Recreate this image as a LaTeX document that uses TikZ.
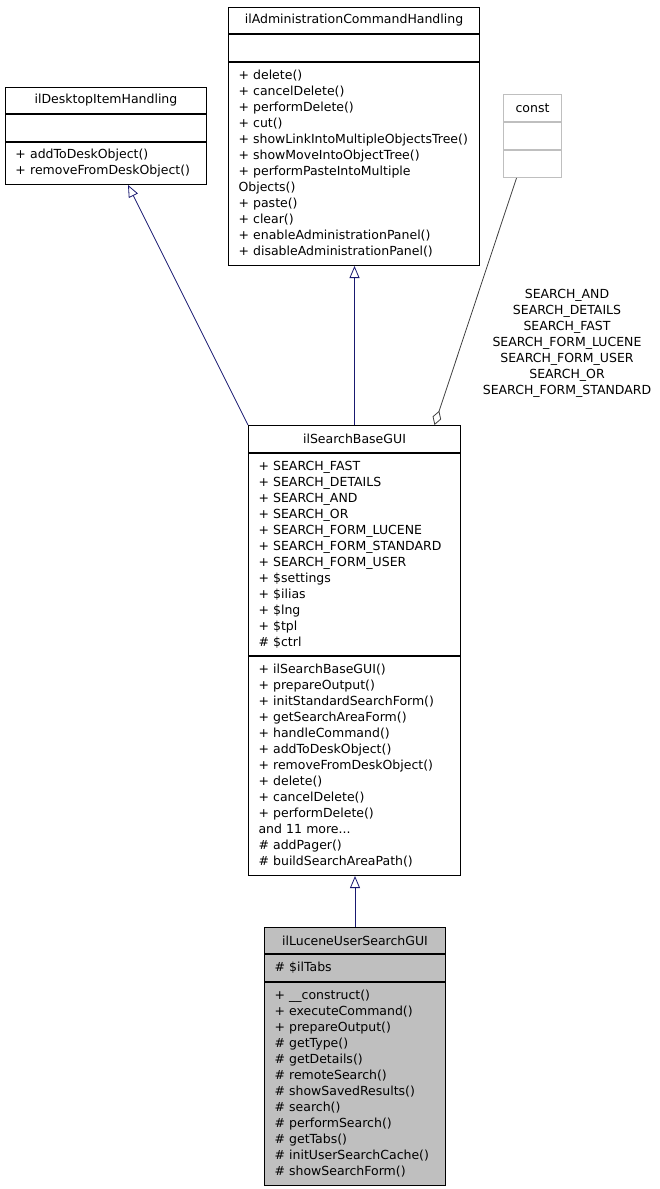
\documentclass[tikz,border=0pt]{standalone}
\usepackage{fontspec}
\setmainfont{DejaVu Sans}
\usetikzlibrary{positioning,arrows.meta}

\definecolor{edgeblue}{HTML}{191970}
\definecolor{boxgray}{HTML}{BFBFBF}
\definecolor{aggray}{HTML}{404040}

\begin{document}
\begin{tikzpicture}[x=1pt, y=-1pt,
  font=\fontsize{12.5}{16}\selectfont,
  head/.style={draw, line width=1pt, inner sep=0pt, align=center},
  part/.style={draw, line width=1pt, inner xsep=10pt, inner ysep=0pt, align=left},
  inh/.style={draw=edgeblue, line width=0.8pt, -{Triangle[open, length=12pt, width=10pt]}},
  agg/.style={draw=aggray, line width=0.8pt, -{Diamond[open, length=15pt, width=9pt]}},
]
\useasboundingbox (0,0) rectangle (660,1189);

% ilDesktopItemHandling
\node[head, anchor=north west, minimum width=201, minimum height=26] (desk) at (5,87) {ilDesktopItemHandling};
\node[part, below=0pt of desk, text width=181, minimum height=27] (desk-a) {};
\node[part, below=0pt of desk-a, text width=181, minimum height=42] (desk-m) {+~addToDeskObject()\\+~removeFromDeskObject()};

% ilAdministrationCommandHandling
\node[head, anchor=north west, minimum width=251, minimum height=26] (admin) at (228,7) {ilAdministrationCommandHandling};
\node[part, below=0pt of admin, text width=231, minimum height=27] (admin-a) {};
\node[part, below=0pt of admin-a, text width=231, minimum height=203] (admin-m) {+~delete()\\+~cancelDelete()\\+~performDelete()\\+~cut()\\+~showLinkIntoMultipleObjectsTree()\\+~showMoveIntoObjectTree()\\+~performPasteIntoMultiple\\Objects()\\+~paste()\\+~clear()\\+~enableAdministrationPanel()\\+~disableAdministrationPanel()};

% const
\node[head, draw=boxgray, anchor=north west, minimum width=58, minimum height=27] (const) at (503,94) {const};
\node[part, draw=boxgray, below=0pt of const, text width=38, minimum height=27] (const-a) {};
\node[part, draw=boxgray, below=0pt of const-a, text width=38, minimum height=27] (const-m) {};

% ilSearchBaseGUI
\node[head, anchor=north west, minimum width=212, minimum height=27] (base) at (248,425) {ilSearchBaseGUI};
\node[part, below=0pt of base, text width=192, minimum height=202] (base-a) {+~SEARCH\_FAST\\+~SEARCH\_DETAILS\\+~SEARCH\_AND\\+~SEARCH\_OR\\+~SEARCH\_FORM\_LUCENE\\+~SEARCH\_FORM\_STANDARD\\+~SEARCH\_FORM\_USER\\+~\$settings\\+~\$ilias\\+~\$lng\\+~\$tpl\\\#~\$ctrl};
\node[part, below=0pt of base-a, text width=192, minimum height=219] (base-m) {+~ilSearchBaseGUI()\\+~prepareOutput()\\+~initStandardSearchForm()\\+~getSearchAreaForm()\\+~handleCommand()\\+~addToDeskObject()\\+~removeFromDeskObject()\\+~delete()\\+~cancelDelete()\\+~performDelete()\\and~11~more...\\\#~addPager()\\\#~buildSearchAreaPath()};

% ilLuceneUserSearchGUI
\node[head, fill=boxgray, anchor=north west, minimum width=181, minimum height=26] (luc) at (264,927) {ilLuceneUserSearchGUI};
\node[part, fill=boxgray, below=0pt of luc, text width=161, minimum height=27] (luc-a) {\#~\$ilTabs};
\node[part, fill=boxgray, below=0pt of luc-a, text width=161, minimum height=203] (luc-m) {+~\_\_construct()\\+~executeCommand()\\+~prepareOutput()\\\#~getType()\\\#~getDetails()\\\#~remoteSearch()\\\#~showSavedResults()\\\#~search()\\\#~performSearch()\\\#~getTabs()\\\#~initUserSearchCache()\\\#~showSearchForm()};

% relations
\draw[inh] (base.north west) -- ([xshift=22pt]desk-m.south);
\draw[inh] (base.north) -- (base.north |- admin-m.south);
\draw[agg] ([xshift=-16pt]const-m.south) -- ([xshift=80pt]base.north);
\draw[inh] (luc.north) -- (luc.north |- base-m.south);
\node[align=center] (lbl) at (567,343) {SEARCH\_AND\\SEARCH\_DETAILS\\SEARCH\_FAST\\SEARCH\_FORM\_LUCENE\\SEARCH\_FORM\_USER\\SEARCH\_OR\\SEARCH\_FORM\_STANDARD};
\end{tikzpicture}
\end{document}
